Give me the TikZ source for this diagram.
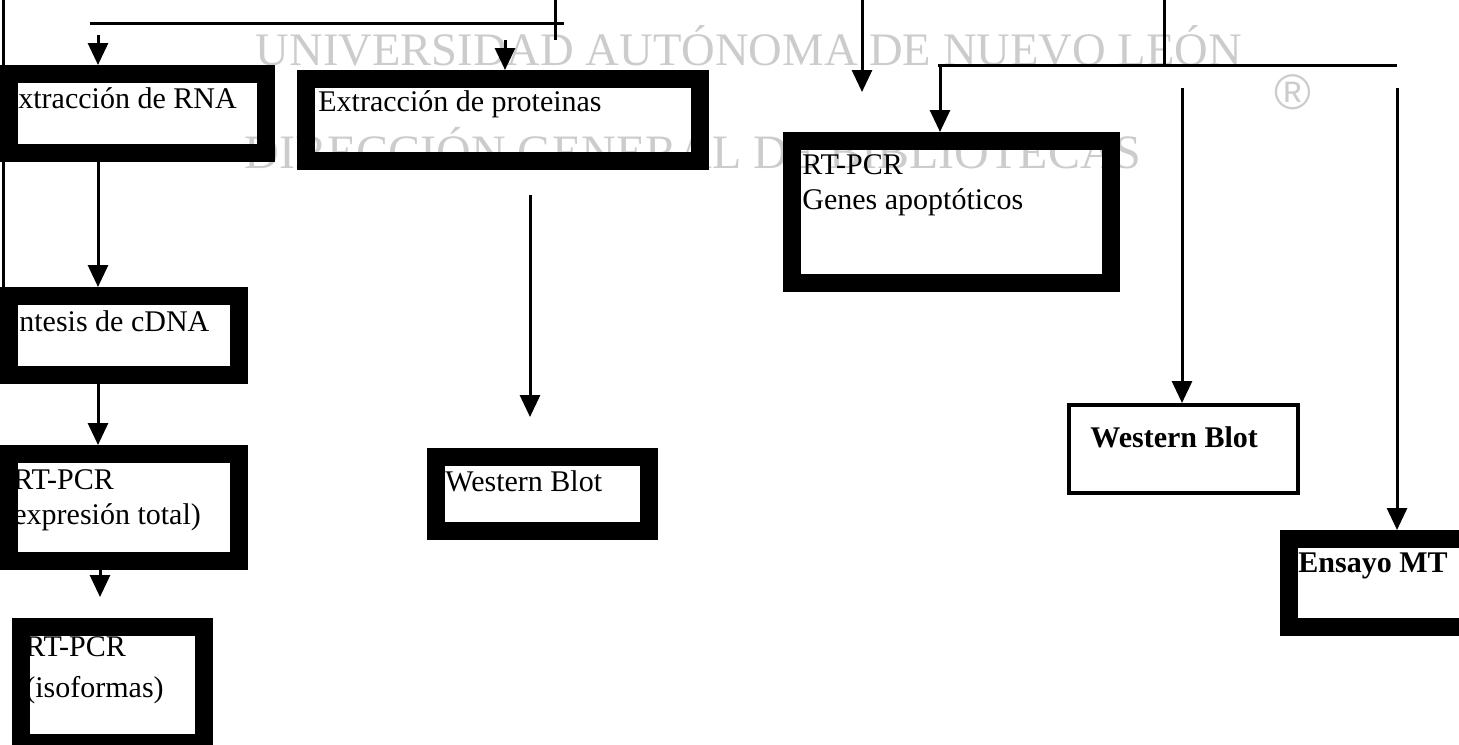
\documentclass[tikz,border=0pt]{standalone}
\usepackage{fontspec}
\setmainfont{Liberation Serif}
\setsansfont{Liberation Sans}
\usepackage{tikz}
\usetikzlibrary{arrows.meta}
\usetikzlibrary{positioning}
\definecolor{wmgray}{gray}{0.80}

\tikzset{
  frame/.style={draw, line width=9pt, inner sep=0pt, anchor=north west},
  thinframe/.style={draw, line width=2pt, inner sep=0pt, anchor=north west},
  lbl/.style={font=\fontsize{15}{17.5}\selectfont, align=left, anchor=base west, inner sep=0pt},
  ln/.style={line width=1.5pt},
  arr/.style={line width=1.5pt, -{Triangle[width=10pt,length=11pt]}},
  wmark/.style={text=wmgray, font=\fontsize{24}{24}\selectfont, inner sep=0pt, anchor=base}
}

\begin{document}
\begin{tikzpicture}[x=0.5pt, y=-0.5pt]
    \useasboundingbox (0,0) rectangle (1459,744);
    \clip (0,0) rectangle (1459,744);

    % watermark
    \node[wmark, font=\fontsize{23.3}{24}\selectfont] (wm1) at (749,65) {UNIVERSIDAD AUTÓNOMA DE NUEVO LEÓN};
    \node[wmark] (wm2) at (693,168) {DIRECCIÓN GENERAL DE BIBLIOTECAS};
    \node[wmark, anchor=center, font=\fontsize{25}{25}\sffamily] (wm3) at (1293,92) {\textregistered};

    % boxes
    \node[frame, minimum width=128.5pt, minimum height=39.5pt] (rna) at (0,65) {};
    \node[frame, minimum width=197pt, minimum height=41pt] (prot) at (297,70) {};
    \node[frame, minimum width=115pt, minimum height=39.5pt] (cdna) at (0,287) {};
    \node[frame, minimum width=115pt, minimum height=53.5pt] (rttot) at (0,445) {};
    \node[frame, minimum width=91.5pt, minimum height=58pt] (iso) at (12,618) {};
    \node[frame, minimum width=106.5pt, minimum height=37pt] (wbl) at (427,448) {};
    \node[frame, minimum width=159.5pt, minimum height=71pt] (apop) at (783,132) {};
    \node[thinframe, minimum width=114.5pt, minimum height=44pt] (wbr) at (1067,403) {};
    \node[frame, minimum width=91pt, minimum height=44pt] (mtt) at (1280,530) {};

    % texts (base = last line)
    \node[lbl] (trna) at ([shift={(18,43)}]rna.north west) {xtracción de RNA};
    \node[lbl] (tprot) at ([shift={(21,41)}]prot.north west) {Extracción de proteinas};
    \node[lbl] (tcdna) at ([shift={(19,44)}]cdna.north west) {ntesis de cDNA};
    \node[lbl] (trttot) at ([shift={(13,79)}]rttot.north west) {RT-PCR\\expresión total)};
    \node[lbl] (tiso) at ([shift={(13,79)}]iso.north west) {RT-PCR\\[3pt](isoformas)};
    \node[lbl] (twbl) at ([shift={(18,43)}]wbl.north west) {Western Blot};
    \node[lbl] (tapop) at ([shift={(19,77)}]apop.north west) {RT-PCR\\Genes apoptóticos};
    \node[lbl, font=\fontsize{15}{17.5}\selectfont\bfseries] (twbr) at ([shift={(23,44)}]wbr.north west) {Western Blot};
    \node[lbl, font=\fontsize{15}{17.5}\selectfont\bfseries] (tmtt) at ([shift={(18,42)}]mtt.north west) {Ensayo MT};

    % free ends of the connectors
    \coordinate (c0) at (3,0);
    \coordinate (h1a) at (90,23);
    \coordinate (h1b) at (564,23);
    \coordinate (v1a) at (555,0);
    \coordinate (v1b) at (555,40);
    \coordinate (c1) at (98,35);
    \coordinate (c2) at (505,40);
    \coordinate (c3) at (100,597);
    \coordinate (c4) at (530,195);
    \coordinate (c5) at (530,417);
    \coordinate (c6) at (862,0);
    \coordinate (c7) at (862,92);
    \coordinate (v2a) at (1164,0);
    \coordinate (v2b) at (1164,65);
    \coordinate (h2a) at (938,65);
    \coordinate (h2b) at (1397,65);
    \coordinate (c8) at (940,65);
    \coordinate (c9) at (1182,88);
    \coordinate (c10) at (1397,88);

    % connectors
    \draw[ln] (c0) -- (c0 |- cdna.north);
    \draw[ln] (h1a) -- (h1b);
    \draw[ln] (v1a) -- (v1b);
    \draw[arr] (c1) -- (c1 |- rna.north);
    \draw[arr] (c2) -- (c2 |- prot.north);
    \draw[arr] (rna.south -| c1) -- (cdna.north -| c1);
    \draw[arr] (cdna.south -| c1) -- (rttot.north -| c1);
    \draw[arr] (rttot.south -| c3) -- (c3);
    \draw[arr] (c4) -- (c5);
    \draw[arr] (c6) -- (c7);
    \draw[ln] (v2a) -- (v2b);
    \draw[ln] (h2a) -- (h2b);
    \draw[arr] (c8) -- (c8 |- apop.north);
    \draw[arr] (c9) -- (c9 |- wbr.north);
    \draw[arr] (c10) -- (c10 |- mtt.north);

\end{tikzpicture}
\end{document}
